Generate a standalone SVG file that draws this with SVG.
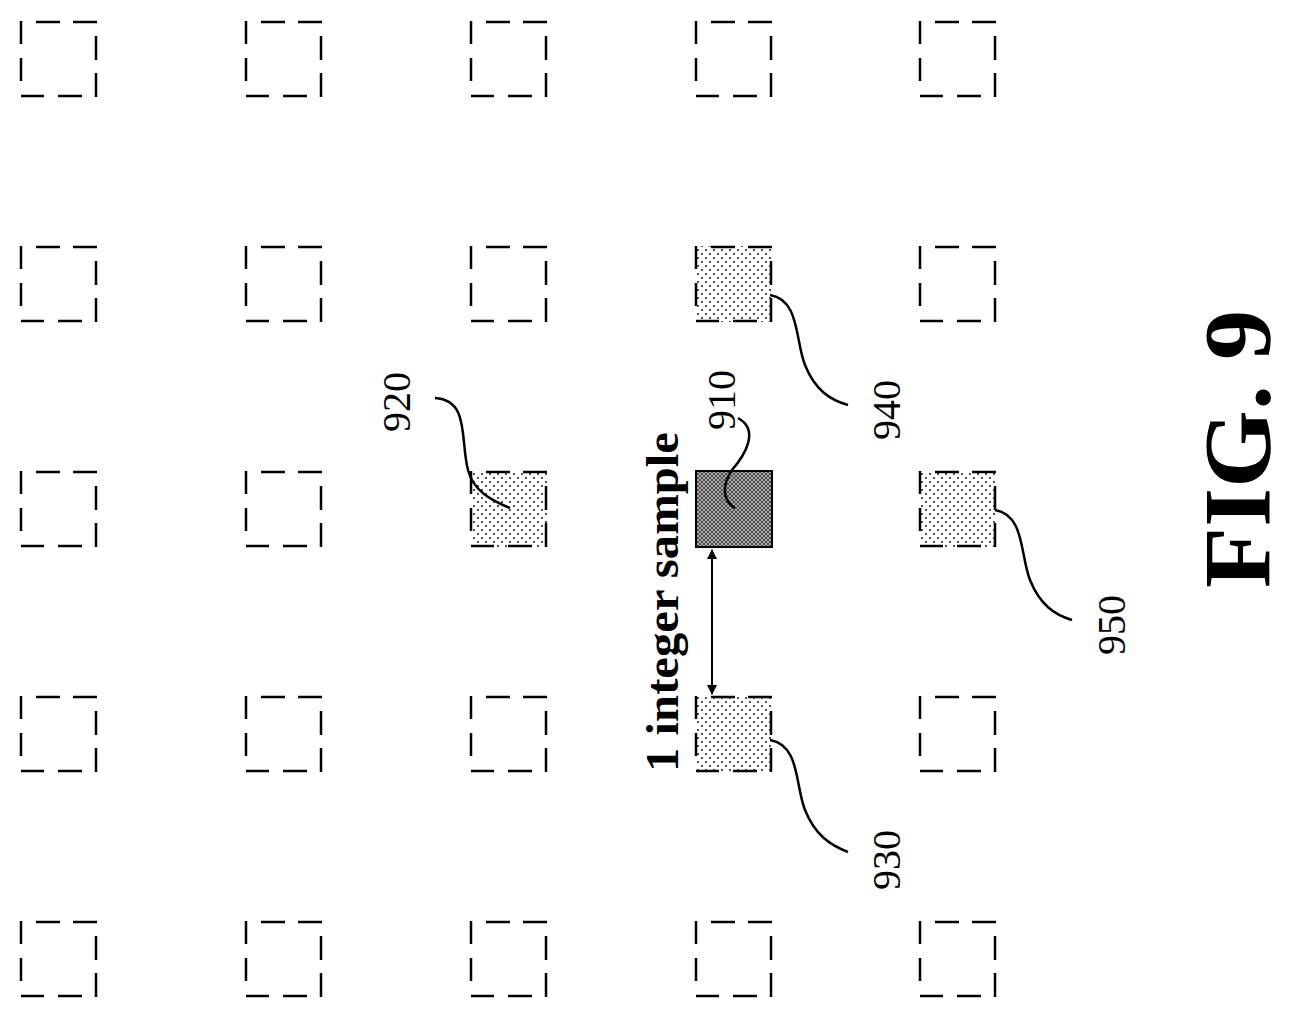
<svg xmlns="http://www.w3.org/2000/svg" width="1289" height="1018" viewBox="0 0 1289 1018">
<defs>
<style>
.d{fill:none;stroke:#000;stroke-width:2.5}
.l{fill:none;stroke:#000;stroke-width:2.5}
.t{font-family:"Liberation Serif",serif;font-size:40px}
</style>
<pattern id="dots" width="8" height="8" patternUnits="userSpaceOnUse"><rect width="8" height="8" fill="#fff"/><circle cx="2" cy="2" r="0.9" fill="#000"/><circle cx="6" cy="6" r="0.9" fill="#000"/></pattern>
<pattern id="hatch" width="4" height="4" patternUnits="userSpaceOnUse"><rect width="4" height="4" fill="#aaa"/><path d="M0 0L4 4M4 0L0 4" stroke="#333" stroke-width="0.8"/></pattern>
<path id="sq" class="d" d="M15 1H39M52 1H76M0 0V23M0 37V60M0 75H23M37 75H61M75 15V39M75 52V76"/>
<marker id="ah" viewBox="0 0 10 10" refX="9" refY="5" markerWidth="5" markerHeight="5" orient="auto-start-reverse"><path d="M0 0L10 5L0 10z" fill="#000"/></marker>
</defs>
<rect width="1289" height="1018" fill="#fff"/>
<g id="grid">
<use href="#sq" x="21" y="21"/><use href="#sq" x="246" y="21"/><use href="#sq" x="471" y="21"/><use href="#sq" x="696" y="21"/><use href="#sq" x="920" y="21"/>
<use href="#sq" x="21" y="246"/><use href="#sq" x="246" y="246"/><use href="#sq" x="471" y="246"/><use href="#sq" x="920" y="246"/>
<use href="#sq" x="21" y="471"/><use href="#sq" x="246" y="471"/>
<use href="#sq" x="21" y="696"/><use href="#sq" x="246" y="696"/><use href="#sq" x="471" y="696"/><use href="#sq" x="920" y="696"/>
<use href="#sq" x="21" y="921"/><use href="#sq" x="246" y="921"/><use href="#sq" x="471" y="921"/><use href="#sq" x="696" y="921"/><use href="#sq" x="920" y="921"/>
</g>
<g id="n920"><rect x="471" y="471" width="76" height="76" fill="url(#dots)"/><use href="#sq" x="471" y="471"/></g>
<g id="n940"><rect x="696" y="246" width="76" height="76" fill="url(#dots)"/><use href="#sq" x="696" y="246"/></g>
<g id="n950"><rect x="920" y="471" width="76" height="76" fill="url(#dots)"/><use href="#sq" x="920" y="471"/></g>
<g id="n930"><rect x="696" y="696" width="76" height="76" fill="url(#dots)"/><use href="#sq" x="696" y="696"/></g>
<g id="n910"><rect x="696" y="471" width="76" height="76" fill="url(#hatch)" stroke="#000" stroke-width="2"/></g>
<g id="connectors">
<line x1="712" y1="550" x2="712" y2="694" stroke="#000" stroke-width="2" marker-start="url(#ah)" marker-end="url(#ah)"/>
<path class="l" d="M738 418C760 430 745 455 732 470C722 485 722 500 735 508"/>
<path class="l" d="M435 398C470 400 460 440 468 470C473 490 490 500 510 508"/>
<path class="l" d="M770 295C800 300 795 340 805 365C815 390 830 400 848 405"/>
<path class="l" d="M995 510C1025 515 1020 555 1030 580C1040 605 1055 615 1072 620"/>
<path class="l" d="M770 740C800 745 795 785 805 810C815 835 830 845 848 852"/>
</g>
<g id="labels">
<text class="t" transform="translate(678,772) rotate(-90)" style="font-weight:bold;font-size:46px" textLength="340" lengthAdjust="spacingAndGlyphs">1 integer sample</text>
<text class="t" transform="translate(735,430) rotate(-90)">910</text>
<text class="t" transform="translate(410,432) rotate(-90)">920</text>
<text class="t" transform="translate(900,440) rotate(-90)">940</text>
<text class="t" transform="translate(1125,655) rotate(-90)">950</text>
<text class="t" transform="translate(900,890) rotate(-90)">930</text>
<text class="t" transform="translate(1270,588) rotate(-90)" style="font-weight:bold;font-size:96px" textLength="278" lengthAdjust="spacingAndGlyphs">FIG. 9</text>
</g>
</svg>
